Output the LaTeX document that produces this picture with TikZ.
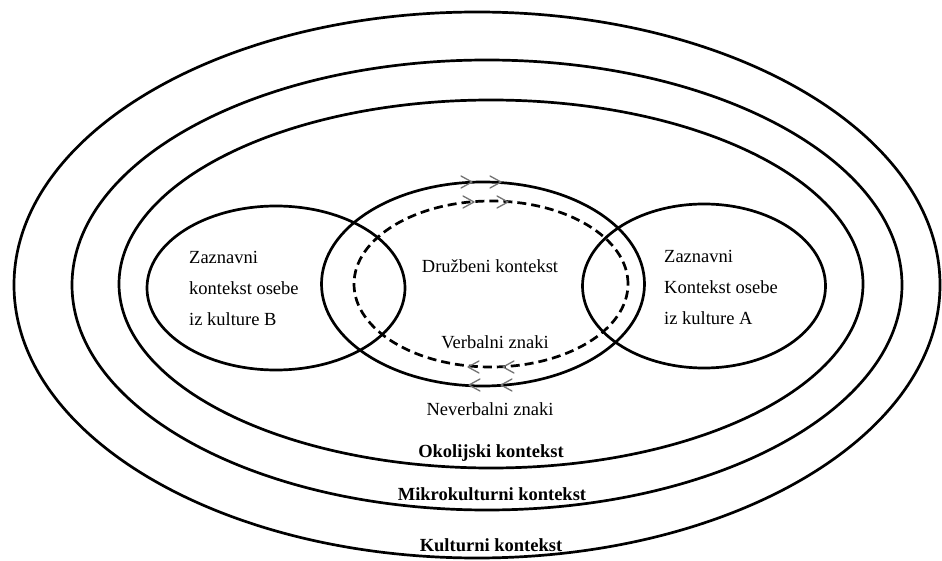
\documentclass[tikz,border=0pt]{standalone}
\usepackage{fontspec}
\setmainfont{Liberation Serif}
\usetikzlibrary{shapes.geometric}

\tikzset{
  ring/.style={draw, ellipse, line width=2.7pt, inner sep=0pt, outer sep=0pt},
  dashring/.style={ring, dash pattern=on 9pt off 5pt},
  label/.style={inner sep=0pt, font=\fontsize{18.5}{31}\selectfont},
  boldlabel/.style={label, font=\fontsize{18.5}{31}\selectfont\bfseries},
  chev/.style={draw=black!55, line width=1.3pt, line cap=round, line join=round},
  rchev/.pic={\draw[chev] (-11,-6) -- (0,0) -- (-11,6);},
  lchev/.pic={\draw[chev] (11,-6) -- (0,0) -- (11,6);}
}

\begin{document}
\begin{tikzpicture}[x=1pt, y=-1pt]
  \useasboundingbox (0,0) rectangle (942,561);
  \fill[white] (0,0) rectangle (942,561);

  % nested context rings
  \node[ring, minimum width=926pt, minimum height=546pt] (kulturni) at (477,285) {};
  \node[ring, minimum width=830pt, minimum height=450pt] (mikro) at (487,285) {};
  \node[ring, minimum width=744pt, minimum height=368pt] (okolje) at (491,284) {};

  % perceptual contexts of the two persons
  \node[ring, minimum width=258pt, minimum height=164pt] (osebaB) at (276,288) {};
  \node[ring, minimum width=243pt, minimum height=164pt] (osebaA) at (704,286) {};

  % social context and the verbal channel
  \node[ring, minimum width=323pt, minimum height=204pt] (druzbeni) at (483,284) {};
  \node[dashring, minimum width=274pt, minimum height=166pt] (verbalni) at (491,284) {};

  % direction marks on the channels
  \pic at (472,182) {rchev};
  \pic at (501,182) {rchev};
  \pic at (474,202) {rchev};
  \pic at (508,202) {rchev};
  \pic at (468,367) {lchev};
  \pic at (503,367) {lchev};
  \pic at (469,385) {lchev};
  \pic at (501,385) {lchev};

  % labels
  \node[label, align=left, anchor=west] (tB) at (189,288)
    {Zaznavni\\kontekst osebe\\iz kulture B};
  \node[label, align=left, anchor=west] (tA) at (664,287)
    {Zaznavni\\Kontekst osebe\\iz kulture A};
  \node[label] (tDruzbeni) at (490,266) {Družbeni kontekst};
  \node[label] (tVerbalni) at (495,342) {Verbalni znaki};
  \node[label] (tNeverbalni) at (490,409) {Neverbalni znaki};
  \node[boldlabel] (tOkolje) at (491,453) {Okolijski kontekst};
  \node[boldlabel] (tMikro) at (492,494) {Mikrokulturni kontekst};
  \node[boldlabel] (tKulturni) at (491,545) {Kulturni kontekst};
\end{tikzpicture}
\end{document}
